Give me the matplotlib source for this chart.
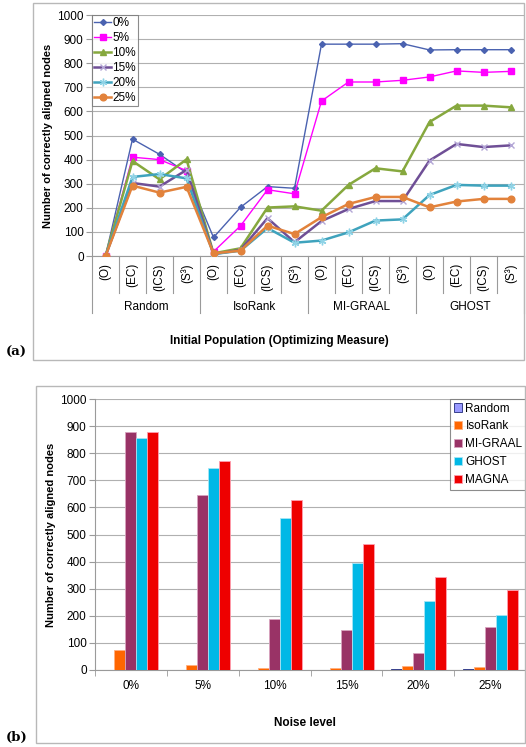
import matplotlib
matplotlib.use("Agg")
import matplotlib.pyplot as plt
from matplotlib.patches import Rectangle
import numpy as np

plt.rcParams['font.family'] = ['Liberation Sans', 'DejaVu Sans']

# ---- (a) line chart data ----
groups = ["Random", "IsoRank", "MI-GRAAL", "GHOST"]
measures = ["(O)", "(EC)", "(ICS)", "(S³)"]
noise_labels = ["0%", "5%", "10%", "15%", "20%", "25%"]

n0 = [0, 485, 422, 345, 77, 202, 288, 281, 879, 879, 879, 881, 855, 856, 856, 856]
n5 = [0, 410, 400, 354, 18, 125, 275, 258, 643, 722, 722, 729, 743, 768, 762, 766]
n10 = [0, 394, 318, 401, 11, 32, 201, 206, 188, 295, 364, 351, 556, 624, 624, 617]
n15 = [0, 303, 288, 357, 8, 25, 157, 57, 145, 195, 228, 228, 396, 465, 452, 459]
n20 = [0, 328, 340, 322, 8, 22, 116, 55, 64, 98, 147, 152, 253, 295, 292, 292]
n25 = [0, 292, 263, 287, 11, 22, 126, 91, 161, 216, 245, 245, 202, 226, 237, 237]

# ---- (b) bar chart data ----
methods = ["Random", "IsoRank", "MI-GRAAL", "GHOST", "MAGNA"]
b_random = [0, 0, 0, 0, 2, 3]
b_isorank = [75, 17, 8, 8, 15, 12]
b_migraal = [878, 645, 190, 148, 62, 160]
b_ghost = [857, 745, 562, 396, 255, 202]
b_magna = [880, 770, 627, 466, 342, 294]

W, H = 526, 747
fig = plt.figure(figsize=(W / 100, H / 100), dpi=100)
fig.patch.set_facecolor("white")


def fx(px):
    return px / W


def fy(py):
    return 1 - py / H


# outer panel frames
for (x0, y0, x1, y1) in [(33, 3, 524, 360), (36, 386, 525, 743)]:
    fig.patches.append(Rectangle((fx(x0), fy(y1)), fx(x1 - x0), (y1 - y0) / H,
                                 transform=fig.transFigure, fill=False,
                                 edgecolor="#b8b8b8", linewidth=1.0))

grid_c = "#b0b0b0"
axis_c = "#9a9a9a"

# ================= panel (a) =================
axa = fig.add_axes([fx(92), fy(256), fx(524 - 92), (256 - 15) / H])
x = np.arange(len(n0))
styles = [
    (n0, "#4a62b0", "D", 3.0, 1.0, "#4a62b0"),
    (n5, "#ff00ff", "s", 4.2, 1.0, "#ff00ff"),
    (n10, "#86a83e", "^", 4.8, 1.8, "#86a83e"),
    (n15, "#6f4f96", "x", 5.0, 1.8, "#b3a6d6"),
    (n20, "#3fa3bd", (6, 2, 0), 5.5, 1.8, "#8fd3e6"),
    (n25, "#e2823b", "o", 4.8, 1.8, "#e2823b"),
]
handles = []
for (vals, col, mk, ms, lw, mec), lab in zip(styles, noise_labels):
    ln, = axa.plot(x, vals, color=col, marker=mk, markersize=ms, linewidth=lw,
                   markerfacecolor=mec, markeredgecolor=mec, label=lab, zorder=3)
    handles.append(ln)

axa.set_xlim(-0.5, len(n0) - 0.5)
axa.set_ylim(0, 1000)
axa.set_yticks(np.arange(0, 1001, 100))
axa.tick_params(axis="y", labelsize=8.5, length=4, color=axis_c, pad=2)
axa.set_xticks([])
axa.grid(axis="y", color=grid_c, linewidth=0.8)
axa.set_axisbelow(True)
for s in ["top", "right"]:
    axa.spines[s].set_visible(False)
axa.spines["left"].set_color(axis_c)
axa.spines["bottom"].set_color(axis_c)

ah = 256 - 15
tr = axa.get_xaxis_transform()
for i in range(len(n0)):
    axa.text(i, -7 / ah, measures[i % 4], transform=tr, rotation=90,
             ha="center", va="top", fontsize=8.5)
for b in range(len(n0) + 1):
    edge = b - 0.5
    depth = 57 if b % 4 == 0 else 37
    axa.plot([edge, edge], [0, -depth / ah], transform=tr, color=axis_c,
             linewidth=0.8, clip_on=False)
for g, name in enumerate(groups):
    axa.text(g * 4 + 1.5, -51 / ah, name, transform=tr, ha="center",
             va="center", fontsize=8.5)

leg = axa.legend(handles=handles, loc="upper left", bbox_to_anchor=(0, 1),
                 fontsize=8.5, frameon=True, fancybox=False, handlelength=1.4,
                 handletextpad=0.1, labelspacing=0.25, borderpad=0.2,
                 borderaxespad=0)
leg.get_frame().set_edgecolor("#707070")
leg.get_frame().set_linewidth(0.8)

axa.set_ylabel("Number of correctly aligned nodes", fontsize=8, fontweight="bold",
               labelpad=3)
fig.text(fx(279), fy(341), "Initial Population (Optimizing Measure)", ha="center",
         va="center", fontsize=8.5, fontweight="bold")
fig.text(fx(16), fy(352), "(a)", ha="center", va="center", fontsize=9.5,
         fontweight="bold", family="DejaVu Serif")

# ================= panel (b) =================
axb = fig.add_axes([fx(95), fy(670), fx(526 - 95), (670 - 399) / H])
xb = np.arange(len(noise_labels))
bw = 0.153
bar_sets = [
    (b_random, "#9999ff", "#1f2a7a"),
    (b_isorank, "#ff6600", "#ffb080"),
    (b_migraal, "#993366", "#d9a3bf"),
    (b_ghost, "#00b8e6", "#a6e6f5"),
    (b_magna, "#ee0000", "#ff9fb0"),
]
for k, ((vals, fc, ec), name) in enumerate(zip(bar_sets, methods)):
    axb.bar(xb + (k - 2) * bw, vals, width=bw, color=fc, edgecolor=ec,
            linewidth=0.6, label=name, zorder=3)

axb.set_xlim(-0.5, len(noise_labels) - 0.5)
axb.set_ylim(0, 1000)
axb.set_yticks(np.arange(0, 1001, 100))
axb.set_xticks(xb)
axb.set_xticklabels(noise_labels)
axb.set_xticks(np.arange(len(noise_labels) + 1) - 0.5, minor=True)
axb.tick_params(axis="x", which="major", length=0, labelsize=8.5, pad=7)
axb.tick_params(axis="x", which="minor", length=4, color=axis_c, direction="out")
axb.tick_params(axis="y", labelsize=8.5, length=4, color=axis_c, pad=2)
axb.grid(axis="y", color=grid_c, linewidth=0.8)
axb.set_axisbelow(True)
for s in ["top", "right"]:
    axb.spines[s].set_visible(False)
axb.spines["left"].set_color(axis_c)
axb.spines["bottom"].set_color(axis_c)

legb = axb.legend(loc="upper right", bbox_to_anchor=(1.0, 1.0), fontsize=8.5,
                  frameon=True, fancybox=False, handlelength=0.7, handleheight=0.7,
                  handletextpad=0.3, labelspacing=0.5, borderpad=0.3,
                  borderaxespad=0)
legb.get_frame().set_edgecolor("#707070")
legb.get_frame().set_linewidth(0.8)

axb.set_ylabel("Number of correctly aligned nodes", fontsize=8, fontweight="bold",
               labelpad=3)
fig.text(fx(305), fy(723), "Noise level", ha="center", va="center", fontsize=8.5,
         fontweight="bold")
fig.text(fx(17), fy(737), "(b)", ha="center", va="center", fontsize=9.5,
         fontweight="bold", family="DejaVu Serif")

fig.savefig("out.png", dpi=100, facecolor="white")
